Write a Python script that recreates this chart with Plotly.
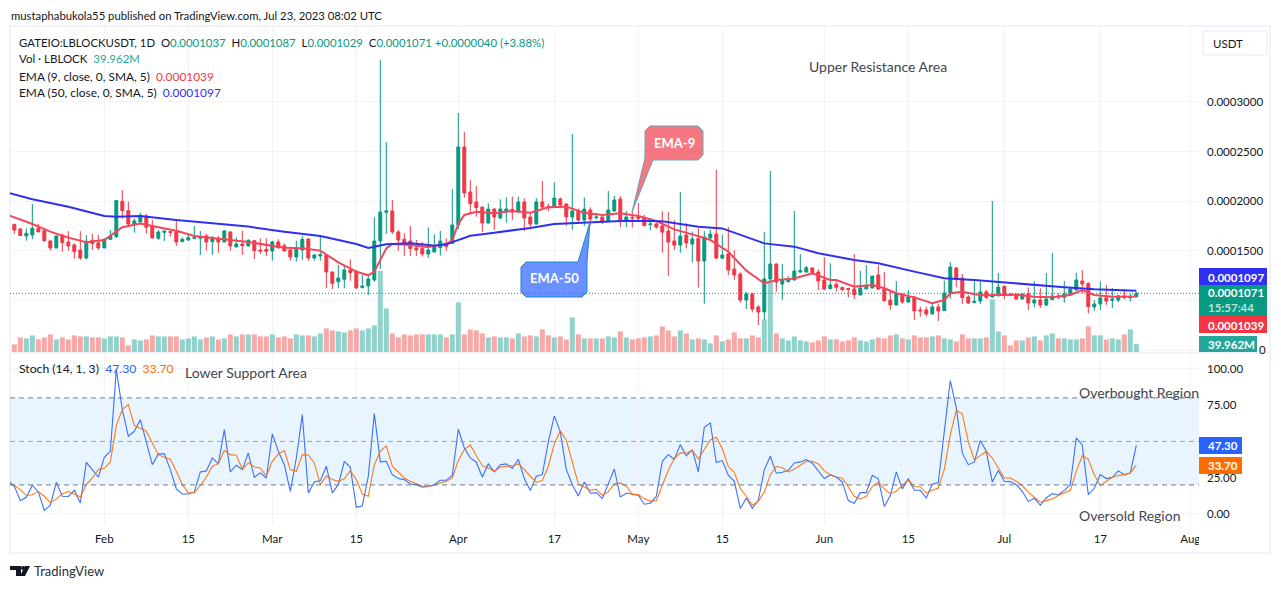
import datetime as dt
import numpy as np
import plotly.graph_objects as go

# ---- price data, in units of 1e-7 USDT, one row per day from 2023-01-17 ----
opens = [1767,1720,1650,1660,1727,1703,1599,1529,1656,1589,1559,1508,1428,1606,1579,1529,1616,1643,1999,1905,
1770,1791,1851,1747,1626,1686,1693,1690,1592,1609,1626,1626,1650,1592,1626,1589,1690,1539,1569,1549,
1602,1508,1515,1498,1589,1552,1508,1438,1508,1619,1428,1448,1458,1287,1189,1213,1307,1293,1129,1146,
1206,1599,1888,1902,1690,1616,1599,1529,1522,1468,1488,1532,1575,1575,1760,2546,2093,1992,1941,1780,
1921,1831,1898,1918,1891,1992,1841,1770,1992,1948,1941,2022,1972,1841,1901,1810,1911,1834,1841,1794,
1901,2022,1810,1837,1837,1831,1763,1770,1750,1700,1599,1558,1659,1568,1622,1397,1629,1669,1427,1468,
1316,1266,1004,1064,933,883,1216,1367,1165,1189,1206,1286,1286,1327,1286,1206,1118,1162,1129,1119,
1115,1055,1115,1125,1256,1115,1004,954,1065,984,1035,904,904,863,934,897,1075,1327,1226,1035,
978,994,1085,1035,1048,1142,1065,1055,1014,1065,974,1004,954,1008,1045,1031,1055,1105,1196,1172,
934,964,1025,1001,1004,1045,1025,1037]
closes = [1710,1653,1676,1727,1690,1602,1529,1650,1582,1549,1492,1428,1596,1572,1529,1616,1650,2006,1905,1770,
1801,1858,1737,1629,1690,1700,1686,1589,1616,1633,1636,1643,1589,1619,1589,1700,1549,1569,1552,1606,
1502,1498,1495,1589,1529,1498,1438,1525,1616,1428,1458,1461,1287,1172,1226,1307,1280,1125,1146,1216,
1599,1891,1902,1690,1609,1576,1522,1508,1468,1508,1538,1599,1542,1760,2546,2083,1975,1935,1780,1921,
1841,1921,1921,1891,1992,1831,1770,1992,1941,1935,2032,1962,1841,1901,1810,1921,1820,1841,1790,1911,
2012,1810,1841,1831,1827,1753,1770,1740,1689,1589,1558,1649,1579,1619,1397,1639,1669,1427,1458,1306,
1256,1004,1064,913,883,1216,1367,1185,1206,1216,1296,1300,1330,1280,1196,1115,1155,1132,1109,1112,
1058,1125,1146,1246,1115,998,954,1065,984,1035,894,894,863,934,894,1075,1337,1216,1028,974,
991,1085,1031,1055,1135,1055,1051,1014,1065,974,1004,954,1014,1045,1035,1065,1115,1206,1166,937,
964,1025,994,1014,1045,1028,1038,1071]
highs = [1767,1727,1727,1972,1770,1710,1609,1653,1670,1697,1576,1697,1660,1670,1660,1626,1710,2012,2113,1996,
1828,1885,1871,1811,1710,1700,1700,1811,1636,1660,1750,1700,1670,1650,1650,1710,1697,1636,1700,1616,
1609,1626,1626,1602,1616,1576,1542,1602,1650,1626,1468,1650,1468,1290,1357,1357,1414,1307,1256,1256,
1838,3424,2597,2012,1710,1676,1750,1609,1589,1737,1666,1700,1626,2123,2889,2697,2214,2153,1945,1978,
1928,2019,2039,2046,2046,2029,1884,2032,2204,1978,2190,2039,1978,2677,1928,2039,1938,1878,1844,2103,
2052,2052,1901,1894,1982,1861,1827,1784,1898,1894,1810,2093,1777,1693,1726,1700,1710,2314,1663,1740,
1508,1283,1088,1078,954,1689,2304,1374,1367,1246,1901,1468,1347,1333,1313,1434,1374,1189,1139,1129,
1468,1297,1357,1246,1354,1287,1095,1196,1072,1105,1038,937,937,984,964,1199,1387,1337,1266,1055,
1193,1189,1105,2002,1277,1152,1072,1072,1072,1132,1193,1122,1277,1478,1072,1196,1139,1280,1307,1182,
1004,1193,1156,1125,1055,1112,1065,1087]
lows = [1670,1650,1602,1616,1690,1589,1502,1525,1492,1502,1421,1408,1414,1508,1508,1525,1609,1626,1824,1750,
1683,1777,1676,1626,1609,1599,1643,1549,1589,1602,1616,1458,1502,1458,1481,1586,1502,1535,1458,1542,
1418,1468,1448,1401,1525,1492,1401,1391,1408,1401,1401,1401,1122,1112,1122,1122,1199,1119,1122,1055,
1189,1317,1670,1670,1502,1448,1448,1448,1441,1428,1484,1451,1501,1568,1716,2036,1878,1844,1689,1777,
1710,1817,1784,1810,1884,1700,1716,1763,1928,1898,1931,1928,1750,1710,1777,1750,1760,1817,1770,1790,
1894,1740,1740,1736,1810,1750,1706,1723,1481,1249,1508,1481,1525,1380,1128,967,1622,1417,1414,1256,
1206,977,913,880,752,802,1189,1088,1004,1179,1199,1280,1280,1259,1105,1105,1112,1088,1095,1031,
1014,1051,1115,1122,1105,988,904,951,964,978,803,836,836,860,793,894,1018,1132,964,964,
971,964,1014,1025,1038,1011,1045,1008,1008,904,930,924,944,1004,1011,978,1051,1102,1072,870,
897,904,954,924,984,1011,988,1029]

# ---- volume, millions of LBLOCK ----
volumes = [38,73,68,83,63,73,88,63,73,63,83,78,78,73,73,68,78,78,73,33,
63,58,63,83,78,78,78,78,63,68,78,63,73,78,63,68,88,78,88,88,
88,78,78,88,73,78,68,88,83,83,78,93,118,108,103,98,108,118,108,118,
133,405,218,93,73,88,83,88,88,88,88,88,73,88,248,88,113,108,93,73,
78,73,73,68,93,78,83,78,113,83,73,78,63,173,88,68,68,68,68,78,
73,103,73,63,68,73,78,83,128,108,78,108,93,63,68,63,43,83,53,63,
98,68,68,83,73,163,358,93,68,58,78,58,53,48,58,78,63,63,53,58,
73,58,53,63,73,68,83,88,68,63,83,73,73,78,83,68,63,53,88,68,
68,68,73,263,103,83,33,58,58,73,78,58,83,93,68,68,63,63,68,128,
83,83,63,68,63,88,113,39.962]

# ---- stochastic, first value is 2023-01-16 (just left of the first candle) ----
stoch_k = [23,19.1,9.2,11.5,19.8,15.2,2.5,6,21.8,12.2,12,16.3,7.6,35.6,30.6,25.3,39.1,43.2,99.5,72,
53.6,57,65,49,34,41.4,41.4,30.6,17.2,13.8,13.8,15.2,29,29.7,38.6,34.5,58.2,29,33.6,30.6,
42,25.3,28.3,24.8,55.2,43.2,34,15.6,38.6,68.5,14.5,22,23,32.9,14.5,20.2,36.3,32.2,4.6,5.5,
26,69.2,35.9,36.3,27.1,24.4,23.7,20.7,20.2,18.4,19,20.2,23.2,23.2,26.7,58.4,45.5,38.6,35.7,25.5,
34.5,29,34,34.5,31.3,37.7,24.4,16.1,26,27.1,49.7,67.6,56.6,30.6,20.2,12.4,22,14.3,14.7,10.6,
20.2,31,11.7,14.3,13.8,12.9,6.7,7.4,12.2,36.3,40.9,37.7,47.8,40,44.2,29,59.8,62.8,35.4,36.8,
26.7,22.5,3.7,11,3.9,9.4,30.4,39.8,28.1,28.8,30.1,35.2,35.9,37.5,35,29.4,24.4,26.9,25.5,22,
9.2,7.4,14.7,14.7,26.7,24.2,5.1,12.7,29,17.3,24.4,16.3,16.3,11,20.5,21.6,55.9,92,73.1,41.9,
34,35.7,50.6,43.2,22,29.9,22.5,22.3,20.2,15.6,8.5,10.8,6,11,14,13.1,16.3,20.2,52.4,47.4,
13.3,17.7,27.1,24.4,25.3,29.7,27.1,28.3,47.3]
stoch_d = [20.7,19.8,16.8,12.7,13.3,15.6,12.2,7.8,10.4,13.8,15.6,13.8,11.7,20.2,24.8,30.6,31.5,35.9,61,72,
75.4,61,58.9,57,49,40.9,39.1,37.7,29.4,20.2,14.5,14.7,19.6,25.3,32.9,34.7,43.7,40.9,40.5,30.8,
35.4,32.4,31.7,26.2,36.3,41.4,43.7,30.6,29.4,40.9,40.7,35.2,20.2,26.2,23.7,22.5,24.2,29.9,23.7,13.8,
12.2,34,43.2,46.9,32.9,29,24.8,22.5,20.9,19.3,19.1,19.8,21.4,22.5,24.8,36.8,44.4,47.6,40.2,33.3,
31.7,29.4,32.4,32.7,33.3,34.5,30.8,26,21.9,23,32.9,48.3,57.3,50.8,36.3,20.7,18.6,16.3,17,12.9,
15.2,20.9,21.4,19.1,13.3,13.3,10.6,8.7,9.2,19.1,30.1,38.2,42.1,41.9,43.9,38,45,51,52.9,44.9,
32.7,28.8,17.5,12.2,6,8.7,15.2,27.1,32.7,32,29,31,33.6,36.3,36.3,34.5,29.7,27.1,25.5,24.6,
18.6,12.2,10.4,12.2,18.9,22,17.3,14,15.6,19.8,23.2,18.9,18.6,14.5,16.3,17.9,30.6,54.7,71.5,69,
49.7,37.3,40.2,43.2,38.6,31.7,24.8,24.8,22.5,19.6,15,11.5,8.1,9.2,10.4,12.7,14.5,16.3,29.4,40.2,
37.7,27.1,19.6,22.5,25.3,26.5,27.1,28.3,33.7]

# ---- moving averages read at selected day numbers (0 = 2023-01-17), units 1e-7 ----
ema9_days = [-1,0,3,6,9,12,15,18,21,24,27,30,33,36,39,42,45,48,51,54,57,59,60,61,62,63,66,69,70,72,73,74,75,77,80,83,86,89,92,95,98,101,104,107,110,113,116,119,122,125,127,130,133,136,137,140,143,145,147,150,153,155,156,158,161,164,167,170,173,176,178,180,183,187]
ema9_vals = [1860,1838,1770,1693,1633,1586,1609,1737,1774,1737,1703,1650,1626,1609,1589,1559,1532,1525,1502,1384,1290,1253,1290,1408,1525,1569,1559,1535,1552,1565,1609,1770,1861,1894,1878,1901,1884,1938,1945,1884,1861,1878,1851,1800,1716,1666,1609,1491,1300,1172,1206,1222,1273,1206,1206,1139,1156,1122,1072,1031,971,1004,1072,1088,1051,1055,1058,1038,1031,1055,1105,1055,1038,1039]
ema50_days = [-1,3,9,15,17,21,27,33,39,45,51,57,59,62,66,69,70,72,74,76,80,86,90,96,102,108,114,118,122,125,130,134,140,144,150,155,160,165,170,175,180,187]
ema50_vals = [2085,2019,1945,1851,1844,1851,1811,1777,1744,1693,1650,1569,1529,1565,1576,1559,1552,1565,1609,1652,1683,1730,1770,1787,1804,1797,1743,1726,1636,1575,1542,1475,1408,1374,1290,1223,1206,1179,1152,1132,1112,1097]

# ---- axis ticks ----
price_ticks = [500,1000,1500,2000,2500,3000]
price_labels = ["","","0.0001500","0.0002000","0.0002500","0.0003000"]
stoch_ticks = [0,25,50,75,100]
stoch_labels = ["0.00","25.00","","75.00","100.00"]
date_ticks = ["2023-02-01","2023-02-15","2023-03-01","2023-03-15","2023-04-01","2023-04-17","2023-05-01","2023-05-15","2023-06-01","2023-06-15","2023-07-01","2023-07-17","2023-08-01"]
date_labels = ["Feb","15","Mar","15","Apr","17","May","15","Jun","15","Jul","17","Aug"]

assert all(len(a)==188 for a in (opens,closes,highs,lows,volumes))
assert len(stoch_k)==189 and len(stoch_d)==189
assert len(ema9_days)==len(ema9_vals) and len(ema50_days)==len(ema50_vals)

W,H = 1281,589
GREEN,RED = "#089981","#F23645"
GRID = "#F0F3FA"
FONT = "Lato"
TXT = "#131722"
def px(x): return x/W
def py(y): return 1-y/H

start = dt.date(2023,1,17)
dates = [start+dt.timedelta(days=i) for i in range(188)]
line_dates = [start+dt.timedelta(days=-1)]+dates
def day(i): return start+dt.timedelta(days=i)
U = 1e-7
o,h,l,c = [np.array(a)*U for a in (opens,highs,lows,closes)]
vol_colors = ["#92D2CC" if cl>=op else "#F7A9A7" for op,cl in zip(opens,closes)]

fig = go.Figure()
fig.add_bar(x=dates,y=volumes,marker=dict(color=vol_colors,line_width=0),xaxis="x",yaxis="y",hoverinfo="skip",showlegend=False)
fig.add_candlestick(x=dates,open=o,high=h,low=l,close=c,xaxis="x",yaxis="y2",whiskerwidth=0,showlegend=False,hoverinfo="skip",
    increasing=dict(line=dict(color=GREEN,width=1),fillcolor=GREEN),
    decreasing=dict(line=dict(color=RED,width=1),fillcolor=RED))
fig.add_scatter(x=[day(i) for i in ema9_days],y=np.array(ema9_vals)*U,mode="lines",line=dict(color="#F2475A",width=2),xaxis="x",yaxis="y2",hoverinfo="skip",showlegend=False)
fig.add_scatter(x=[day(i) for i in ema50_days],y=np.array(ema50_vals)*U,mode="lines",line=dict(color="#3030F0",width=2),xaxis="x",yaxis="y2",hoverinfo="skip",showlegend=False)
fig.add_scatter(x=line_dates,y=stoch_k,mode="lines",line=dict(color="#2962FF",width=1.1),xaxis="x2",yaxis="y3",opacity=.9,hoverinfo="skip",showlegend=False)
fig.add_scatter(x=line_dates,y=stoch_d,mode="lines",line=dict(color="#FF6D00",width=1.1),xaxis="x2",yaxis="y3",opacity=.9,hoverinfo="skip",showlegend=False)

xr = ["2023-01-16 06:43","2023-08-02 10:48"]
xcommon = dict(range=xr,type="date",tickmode="array",tickvals=date_ticks,ticktext=date_labels,showgrid=True,gridcolor=GRID,gridwidth=1,automargin=False,
               zeroline=False,showline=False,domain=[px(10),px(1199)],rangeslider=dict(visible=False))
shapes = []
def rect(x0,y0,x1,y1,fill,line=None,layer="above",lw=1):
    shapes.append(dict(type="rect",xref="paper",yref="paper",x0=px(x0),x1=px(x1),y0=py(y0),y1=py(y1),
                       fillcolor=fill,line=dict(color=line or fill,width=lw if line else 0),layer=layer))
def path(d,fill,line,lw=1):
    shapes.append(dict(type="path",xref="paper",yref="paper",path=d,fillcolor=fill,line=dict(color=line,width=lw),layer="above"))
def P(points):
    return "M"+" L".join(f"{px(a):.5f},{py(b):.5f}" for a,b in points)+" Z"

# frame
for (a,b,c2,d2) in [(9,26,11,554),(1269,26,1271,554),(9,25,1271,27),(9,552,1271,554),(9,352,1271,354)]:
    rect(a,b,c2,d2,"#F0F3FA",layer="below")
# oscillator band and levels
shapes.append(dict(type="rect",xref="x2 domain",yref="y3",x0=0,x1=1,y0=20,y1=80,fillcolor="rgba(33,150,243,0.1)",line_width=0,layer="below"))
for lv,col in [(80,"#787B86"),(50,"#9CA0AA"),(20,"#787B86")]:
    shapes.append(dict(type="line",xref="x2 domain",yref="y3",x0=0,x1=1,y0=lv,y1=lv,line=dict(color=col,width=1,dash="5px,4px"),layer="above"))
# last price line
shapes.append(dict(type="line",xref="x domain",yref="y2",x0=0,x1=1,y0=closes[-1]*U,y1=closes[-1]*U,line=dict(color=GREEN,width=1,dash="1px,2px"),layer="above"))
# white cover right of the time scale, so the Aug label is cut as in the original
rect(1199,527,1268,551,"#FFFFFF")
# value tags
rect(1199,268,1267,285,"#3030F5")
rect(1199,285,1267,316,GREEN)
rect(1199,316,1267,333,RED)
rect(1199,336,1257,352,"#26A69A")
rect(1199,437,1242,454,"#2962FF")
rect(1199,457,1242,474,"#FF6D00")
# callouts
path(P([(650,126),(698,126),(703,131),(703,155),(698,160),(653,160),(632,212),(645,158),(645,131)]),"rgba(242,54,69,0.68)","#5FA8B8")
path(P([(526,262),(578,262),(590,222),(587,262),(587,292),(582,297),(526,297),(521,292),(521,267)]),"rgba(41,98,255,0.7)","#1E88C8")
# USDT button
rect(1203,31,1267,55,"#FFFFFF","#E8EAF0")
# logo
path(P([(10,566),(21,566),(21,576),(16,576),(16,570),(10,570)]),TXT,TXT,0)
path(P([(25,566),(30,566),(25,576),(20,576)]),TXT,TXT,0)
shapes.append(dict(type="circle",xref="paper",yref="paper",x0=px(21),x1=px(25),y0=py(566),y1=py(570),fillcolor=TXT,line_width=0,layer="above"))

anns = []
def text(x,y,s,size=12,color=TXT,anchor="left",bold=False):
    anns.append(dict(xref="paper",yref="paper",x=px(x),y=py(y),text=f"<b>{s}</b>" if bold else s,showarrow=False,xanchor=anchor,yanchor="middle",
                     font=dict(family=FONT,size=size,color=color),align="left",borderpad=0))
def sp(s,col): return f'<span style="color:{col}">{s}</span>'
N="\u00a0"
text(10,15,"mustaphabukola55 published on TradingView.com, Jul 23, 2023 08:02 UTC",11.3)
G1=GREEN
text(18,42,f"GATEIO:LBLOCKUSDT, 1D{N}{N}O"+sp("0.0001037",G1)+f"{N}{N}H"+sp("0.0001087",G1)+f"{N}{N}L"+sp("0.0001029",G1)+f"{N}{N}C"+sp("0.0001071",G1)+N+sp("+0.0000040 (+3.88%)",G1),11.4)
text(18,59,f"Vol · LBLOCK{N}{N}"+sp("39.962M","#26A69A"),11.5)
text(18,76,f"EMA (9, close, 0, SMA, 5){N}{N}"+sp("0.0001039",RED),11.9)
text(18,92,f"EMA (50, close, 0, SMA, 5){N}{N}"+sp("0.0001097","#3030F5"),11.9)
text(18,368,f"Stoch (14, 1, 3){N}{N}"+sp("47.30","#2962FF")+f"{N}{N}"+sp("33.70","#FF6D00"),12.2)
text(808,67,"Upper Resistance Area",14,"#434651")
text(184,372,"Lower Support Area",14,"#434651")
text(1078,392,"Overbought Region",14,"#434651")
text(1078,515,"Oversold Region",14,"#434651")
text(674,143,"EMA-9",13,"#FFFFFF","center",True)
text(554,278,"EMA-50",13,"#FFFFFF","center",True)
text(1212,43,"USDT",11.5)
text(33,571,"TradingView",13,"#2A2E39")
text(1258,349,"0",11.5)
for y,s,col in [(277,"0.0001097","#FFFFFF"),(293,"0.0001071","#FFFFFF"),(307,"15:57:44","#B8E3DB"),(325,"0.0001039","#FFFFFF"),(344,"39.962M","#FFFFFF"),(445.5,"47.30","#FFFFFF"),(465.5,"33.70","#FFFFFF")]:
    text(1207,y,s,11.5,col,bold=True)

tickfont = dict(family=FONT,size=11.5,color=TXT)
fig.update_layout(
    width=W,height=H,autosize=False,margin=dict(l=0,r=0,t=0,b=0,pad=0),paper_bgcolor="#FFFFFF",plot_bgcolor="#FFFFFF",
    showlegend=False,bargap=0.16,shapes=shapes,annotations=anns,font=dict(family=FONT,size=12,color=TXT),
    xaxis=dict(anchor="y",showticklabels=False,ticks="",**xcommon),
    xaxis2=dict(anchor="y3",showticklabels=True,ticks="",tickfont=tickfont,ticklabelstandoff=4,tickangle=0,**xcommon),
    yaxis=dict(domain=[py(352),py(26)],range=[0,1630],showgrid=False,showticklabels=False,zeroline=False,showline=False,fixedrange=True,automargin=False),
    yaxis2=dict(domain=[py(352),py(26)],overlaying="y",anchor="x",side="right",range=[480*U,3766*U],tickmode="array",automargin=False,
                tickvals=[t*U for t in price_ticks],ticktext=price_labels,showgrid=True,gridcolor=GRID,zeroline=False,
                showline=False,ticks="",tickfont=tickfont,ticklabelstandoff=7),
    yaxis3=dict(domain=[py(526),py(355)],anchor="x2",side="right",range=[-8.3,109.6],tickmode="array",tickvals=stoch_ticks,automargin=False,
                ticktext=stoch_labels,showgrid=True,gridcolor=GRID,zeroline=False,showline=False,ticks="",tickfont=tickfont,ticklabelstandoff=7),
)
fig.write_html("out.html",post_script="document.body.style.margin='0';document.documentElement.style.overflow='hidden';",config={"displayModeBar":False})
